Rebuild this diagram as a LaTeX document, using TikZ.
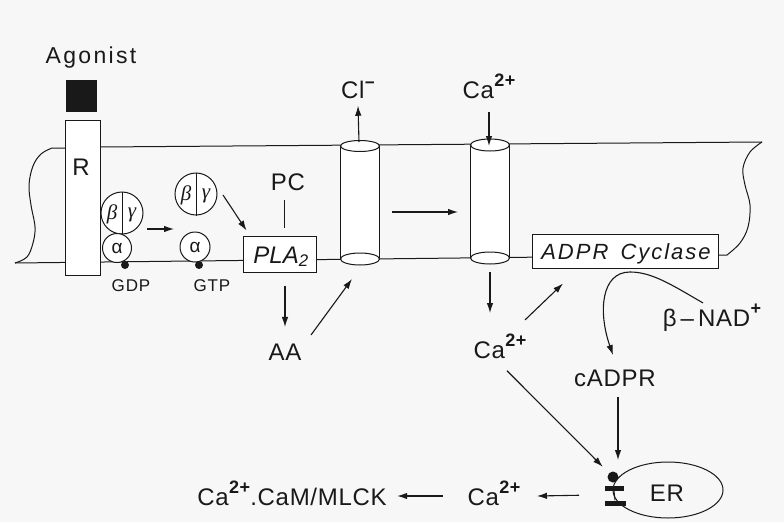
\documentclass[tikz,border=0pt]{standalone}
\usepackage{fontspec}
\setmainfont{Liberation Sans}
\newfontfamily\grkserif{Liberation Serif}
\usetikzlibrary{arrows.meta}
\definecolor{bgc}{RGB}{247,247,247}
\definecolor{ink}{RGB}{25,25,25}
\newcommand{\sps}[1]{\kern0.5pt\raisebox{12pt}{\fontsize{18}{18}\selectfont\bfseries #1}}
\newcommand{\spm}{\kern0.5pt\raisebox{10pt}{\fontsize{17}{17}\selectfont\bfseries −}}
\begin{document}
\begin{tikzpicture}[x=1pt,y=-1pt,line width=1pt,draw=ink,
 lbl/.style={font=\fontsize{24}{26}\selectfont\addfontfeature{LetterSpace=3},inner sep=0pt,anchor=base,text=ink},
 small/.style={font=\fontsize{17}{19}\selectfont\addfontfeature{LetterSpace=5},inner sep=0pt,anchor=base,text=ink},
 greek/.style={font=\fontsize{21}{22}\selectfont\grkserif\itshape,inner sep=0pt,text=ink},
 alph/.style={font=\fontsize{19}{20}\selectfont,inner sep=0pt,text=ink},
 arr/.style={-{Latex[length=10pt,width=6.5pt]},line width=1.1pt},
 gp/.style={circle,draw,fill=white,inner sep=0pt},
 boxn/.style={draw,fill=white,inner sep=0pt},
 gdot/.style={circle,fill=ink,inner sep=0pt,minimum size=8pt}]
\useasboundingbox (0,0) rectangle (784,522);
\fill[bgc] (0,0) rectangle (784,522);

% ---- membrane ----
\draw plot[smooth,tension=0.6] coordinates {(15,263) (27,257) (33,243) (35,227) (31,205) (29,185) (33,166) (41,154) (52,148)} -- (66,148);
\draw (100,147) -- (762,142);
\draw (15,263) -- (727,255);
\draw plot[smooth,tension=0.6] coordinates {(762,142) (750,152) (743,168) (745,185) (750,205) (748,227) (740,243) (727,255)};

% ---- receptor ----
\node[boxn,minimum width=35pt,minimum height=155pt] (Rbox) at (82.5,198) {};
\node[lbl] (Rl) at (81,175) {R};
\node[fill=ink,minimum width=31pt,minimum height=32pt,inner sep=0pt] (ag) at (81.5,96) {};
\node[lbl,font=\fontsize{23}{26}\selectfont\addfontfeature{LetterSpace=10}] (agl) at (91,63) {Agonist};

% ---- G protein (bound) ----
\node[gp,minimum size=42pt] (bg1) at (122,213) {};
\draw (bg1.north) -- (bg1.south);
\node[greek] (b1) at (112,214) {β};
\node[greek] (c1) at (132,215) {γ};
\node[gp,minimum size=29pt] (a1) at (117,248) {};
\node[alph] at (a1) {α};
\node[gdot] (d1) at (125,265) {};
\node[small] (gdp) at (131,291) {GDP};

% ---- G protein (dissociated) ----
\node[gp,minimum size=42pt] (bg2) at (196,194) {};
\draw (bg2.north) -- (bg2.south);
\node[greek] (b2) at (186,195) {β};
\node[greek] (c2) at (206,196) {γ};
\node[gp,minimum size=30pt] (a2) at (195,247) {};
\node[alph] at (a2) {α};
\node[gdot] (d2) at (199,265) {};
\node[small] (gtp) at (212,291) {GTP};

\coordinate (m1) at (147,229);
\coordinate (m2) at (174,229);
\draw[arr] (m1) -- (m2);

% ---- PLA2 ----
\node[boxn,minimum width=73pt,minimum height=36pt] (pla) at (279.5,254) {};
\node[lbl,font=\fontsize{24}{26}\itshape] (plal) at (281,263) {PLA\textsubscript{2}};
\node[lbl] (pc) at (288,190) {PC};
\draw[shorten <=9pt,shorten >=8pt] (pc.south -| 284,0) -- (pla.north -| 284,0);
\path (bg2) ++(27,1) coordinate (bgo);
\path (pla.north west) ++(4,-5) coordinate (bgt);
\draw[arr] (bgo) -- (bgt);

% ---- Cl channel ----
\fill[white] (340.5,146) rectangle (379.5,259);
\draw (340.5,146) -- (340.5,259) (379.5,146) -- (379.5,259);
\draw[fill=white] (360,146) ellipse [x radius=19.5pt, y radius=5.5pt];
\draw[fill=white] (360,259) ellipse [x radius=19.5pt, y radius=6pt];
\coordinate (cltop) at (359,142);
\coordinate (clbot) at (352,279);
\node[lbl] (cl) at (358,98) {Cl\spm};
\draw[arr] (cltop) -- ([yshift=-7pt]cl.south);

% ---- Ca channel ----
\fill[white] (470.5,145) rectangle (509.5,258);
\draw (470.5,145) -- (470.5,258) (509.5,145) -- (509.5,258);
\draw[fill=white] (490,145) ellipse [x radius=19.5pt, y radius=6pt];
\draw[fill=white] (490,258) ellipse [x radius=19.5pt, y radius=6pt];
\coordinate (catop) at (489,146);
\coordinate (cabot) at (490,272);
\node[lbl] (ca1) at (489,98) {Ca\sps{2+}};
\draw[arr] ([yshift=-13pt]ca1.south -| catop) -- (catop);

\coordinate (h1) at (392,212);
\coordinate (h2) at (458,212);
\draw[arr] (h1) -- (h2);

% ---- ADPR cyclase ----
\node[boxn,minimum width=186pt,minimum height=34pt] (adpr) at (625,251) {};
\node[lbl,font=\fontsize{22}{26}\itshape\addfontfeature{LetterSpace=9}] (adprl) at (626,259) {ADPR\hspace{4pt} Cyclase};

% ---- cytosol ----
\node[lbl] (aa) at (285,360) {AA};
\draw[arr,shorten <=13pt,shorten >=16pt] (pla.south -| aa.north) -- (aa.north);
\draw[arr] ([xshift=26pt,yshift=8pt]aa.north) -- (clbot);

\node[lbl] (ca2) at (500,358) {Ca\sps{2+}};
\draw[arr] (cabot) -- (cabot |- 0,313);
\draw[arr] ([xshift=25pt,yshift=13pt]ca2.north) -- ([xshift=-62pt,yshift=-15pt]adpr.south);

\node[lbl] (bnad) at (712,326) {β\,\textendash\,NAD\sps{+}};
\node[lbl] (cadpr) at (615,386) {cADPR};
\draw[arr] ([xshift=-9pt,yshift=0pt]bnad.north) .. controls (672,285) and (652,272) .. (630,272)
  .. controls (601,272) and (598,312) .. (613,355);

% ---- ER ----
\draw (668,490) ellipse [x radius=55pt, y radius=28pt];
\node[lbl] (er) at (667,501) {ER};
\node[fill=ink,inner sep=0pt,minimum width=19pt,minimum height=5pt] (bar1) at (614,488) {};
\node[fill=ink,inner sep=0pt,minimum width=21pt,minimum height=5.5pt] (bar2) at (615,503.5) {};
\draw (bar1.south) -- (bar2.north);
\node[circle,fill=ink,inner sep=0pt,minimum size=11pt] (ball) at (613,477) {};

\draw[arr] ([yshift=-10pt]cadpr.south -| 618,0) -- ([yshift=11pt]ball.north -| 618,0);
\draw[arr] ([xshift=7pt,yshift=-12pt]ca2.south) -- ([xshift=-6pt,yshift=6pt]ball.north west);

\node[lbl] (ca3) at (494,505) {Ca\sps{2+}};
\node[lbl] (cam) at (292,505) {Ca\sps{2+}.CaM/MLCK};
\draw[arr] ([xshift=-25pt,yshift=5pt]bar2.north west) -- ([xshift=16pt]ca3.east |- 0,496);
\draw[arr] ([xshift=-24pt]ca3.west |- 0,496) -- ([xshift=10pt]cam.east |- 0,496);
\end{tikzpicture}
\end{document}
